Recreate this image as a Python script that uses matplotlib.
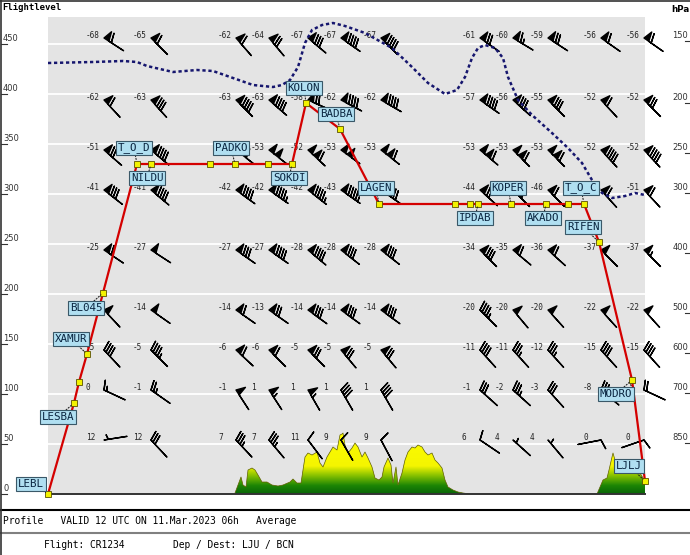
import numpy as np
import matplotlib
matplotlib.use("Agg")
import matplotlib.pyplot as plt
from matplotlib.colors import LinearSegmentedColormap
from matplotlib.lines import Line2D
from matplotlib.patches import Polygon

# left axis (flight level) and right axis (pressure levels)
fl_ticks = [0, 50, 100, 150, 200, 250, 300, 350, 400, 450]
levels_hpa = [150, 200, 250, 300, 400, 500, 600, 700, 850]
levels_fl = [453, 391, 341, 301, 241, 181, 141, 101, 51]

# along-track position of the forecast columns
col_dist = [104, 151, 236, 269, 308, 341, 381, 480, 513, 548, 601, 644]

# temperature (C), wind direction (deg) and speed (kt) per pressure level
# None = temperature hidden behind a waypoint label in the original
temp_150 = [-68, -65, -62, -64, -67, -67, -67, -61, -60, -59, -56, -56]
dir_150 = [303, 315, 319, 320, 310, 305, 315, 305, 301, 303, 305, 305]
spd_150 = [60, 60, 60, 70, 80, 90, 90, 70, 65, 70, 60, 60]

temp_200 = [-62, -63, -63, -63, -58, -62, -62, -57, -56, -55, -52, -52]
dir_200 = [317, 318, 315, 311, 294, 298, 300, 305, 312, 315, 317, 315]
spd_200 = [60, 80, 90, 90, 70, 90, 90, 90, 80, 80, 60, 70]

temp_250 = [-51, None, None, -53, -52, -53, -53, -53, -53, -53, -52, -52]
dir_250 = [311, 310, 308, 308, 313, 306, 308, 310, 315, 315, 317, 317]
spd_250 = [70, 90, 100, 100, 110, 100, 110, 110, 110, 110, 90, 90]

temp_300 = [-41, -41, -42, -42, -42, -43, None, -44, None, -46, None, -51]
dir_300 = [308, 310, 306, 305, 308, 305, 305, 312, 315, 315, 318, 317]
spd_300 = [80, 90, 90, 95, 95, 95, 90, 70, 70, 60, 60, 60]

temp_400 = [-25, -27, -27, -27, -28, -28, -28, -34, -35, -36, -37, -37]
dir_400 = [304, 303, 305, 305, 310, 308, 308, 315, 310, 312, 315, 315]
spd_400 = [60, 50, 80, 90, 90, 80, 80, 80, 60, 60, 50, 55]

temp_500 = [None, -14, -14, -13, -14, -14, -14, -20, -20, -20, -22, -22]
dir_500 = [317, 305, 305, 305, 306, 306, 306, 315, 320, 318, 318, 318]
spd_500 = [50, 50, 60, 70, 80, 80, 80, 45, 50, 50, 50, 50]

temp_600 = [-5, -5, -6, -6, -5, -5, -5, -11, -11, -12, -15, -15]
dir_600 = [317, 315, 313, 315, 315, 320, 320, 318, 318, 318, 318, 318]
spd_600 = [40, 45, 60, 60, 70, 70, 70, 40, 35, 35, 40, 40]

temp_700 = [0, -1, -1, 1, 1, 1, 1, -1, -2, -3, -8, -5]
dir_700 = [295, 305, 327, 327, 330, 330, 330, 312, 312, 318, 310, 295]
spd_700 = [15, 25, 50, 55, 55, 40, 40, 30, 35, 30, 30, 20]

temp_850 = [12, 12, 7, 7, 11, 9, 9, 6, 4, 4, 0, 0]
dir_850 = [261, 317, 317, 320, 323, 330, 332, 304, 312, 320, 79, 71]
spd_850 = [5, 30, 35, 35, 10, 10, 10, 10, 5, 5, 10, 10]

# flight profile
wpt_dist = [48, 74, 79, 87, 103, 137, 151, 210, 235, 268, 292, 306, 340,
            379, 455, 470, 478, 511, 546, 568, 584, 599, 632, 645]
wpt_fl = [0, 91, 112, 140, 201, 330, 330, 330, 330, 330, 330, 391, 365,
          290, 290, 290, 290, 290, 290, 290, 290, 252, 114, 13]
wpt_name = ['LEBL', 'LESBA', '', 'XAMUR', 'BL045', 'T_O_D', 'NILDU', '',
            'PADKO', '', 'SOKDI', 'KOLON', 'BADBA', 'LAGEN', '', '', 'IPDAB',
            'KOPER', 'AKADO', '', 'T_O_C', 'RIFEN', 'MODRO', 'LJLJ']

# tropopause
trop_dist = [48, 93, 123, 137, 147, 173, 197, 213, 233, 253, 273, 282, 290,
             298, 305, 312, 322, 333, 345, 365, 392, 412, 428, 445, 457, 465,
             472, 478, 485, 495, 503, 508, 518, 532, 552, 568, 582, 592, 602,
             612, 625, 635, 645]
trop_fl = [431, 432, 433, 432, 428, 422, 424, 423, 416, 409, 407, 409, 414,
           427, 451, 464, 469, 471, 468, 461, 446, 427, 411, 400, 404, 417,
           436, 446, 449, 446, 436, 417, 394, 379, 361, 346, 331, 314, 301,
           296, 298, 301, 299]

# terrain (Alps section and Ljubljana basin)
terrain_dist_1 = [235, 238, 241, 243, 246, 248, 252, 255, 258, 262, 267, 272,
                  278, 283, 290, 293, 297, 301, 305, 308, 312, 317, 320, 323,
                  327, 330, 333, 337, 340, 342, 343, 345, 348, 352, 355, 358,
                  362, 365, 368, 372, 375, 379, 382, 384, 388, 391, 393, 396,
                  398, 402, 405, 408, 412, 415, 418, 422, 425, 428, 432, 435,
                  438, 442, 445, 448, 453, 458, 463, 470]
terrain_fl_1 = [1, 9, 17, 9, 7, 24, 26, 24, 19, 12, 12, 9, 8, 9, 12, 15, 11,
                11, 37, 41, 39, 42, 31, 27, 37, 42, 47, 44, 59, 60, 61, 49, 41,
                46, 51, 47, 37, 42, 36, 27, 16, 14, 17, 27, 36, 29, 11, 27, 9,
                21, 34, 42, 47, 46, 49, 47, 42, 39, 41, 34, 31, 26, 14, 7, 4,
                2, 1, 0]
terrain_dist_2 = [597, 600, 603, 607, 609, 612, 613, 615, 617, 620, 623, 627,
                  630, 633, 637, 640, 643, 645]
terrain_fl_2 = [0, 7, 14, 16, 24, 37, 41, 34, 31, 27, 31, 27, 29, 26, 24, 21,
                16, 12]

# label placement (pixels from the waypoint)
label_offset = {
    'LEBL': (-17, 10), 'LESBA': (-16, -14), 'XAMUR': (-16, 15),
    'BL045': (-17, -15), 'T_O_D': (-3, 16), 'NILDU': (-4, -14),
    'PADKO': (-4, 16), 'SOKDI': (-3, -14), 'KOLON': (-2, 15),
    'BADBA': (-4, 15), 'LAGEN': (-3, 16), 'IPDAB': (-3, -14),
    'KOPER': (-3, 16), 'AKADO': (-3, -14), 'T_O_C': (-3, 16),
    'RIFEN': (-16, 15), 'MODRO': (-16, -14), 'LJLJ': (-16, 15),
}

W, H = 690, 555
fig = plt.figure(figsize=(W / 100, H / 100), dpi=100)
ax = fig.add_axes([48 / W, (H - 494) / H, 597 / W, 477 / H])
ax.set_facecolor('#e4e4e4')
for s in ['top', 'left', 'right']:
    ax.spines[s].set_visible(False)
ax.spines['bottom'].set_color('#333333')
ax.spines['bottom'].set_linewidth(1.4)
ax.set_xticks([])
ax.set_yticks([])

mono = 'DejaVu Sans Mono'

# white grid lines every 50 FL
for fl in fl_ticks[1:]:
    ax.axhline(fl, color='white', lw=1.3, zorder=1)

# terrain with green-to-yellow shading
terrain_cmap = LinearSegmentedColormap.from_list(
    'ground', [(0, '#086408'), (0.12, '#1c8505'), (0.27, '#8cc400'),
               (0.4, '#f5f500'), (1, '#ffff00')])
grad = np.linspace(0, 1, 256).reshape(-1, 1)
for tx, tf in [(terrain_dist_1, terrain_fl_1), (terrain_dist_2, terrain_fl_2)]:
    verts = list(zip(tx, tf)) + [(tx[-1], 0), (tx[0], 0)]
    poly = Polygon(verts, closed=True, fc='none', ec='none', transform=ax.transData)
    ax.add_patch(poly)
    im = ax.imshow(grad, extent=(48, 645, 0, 70), origin='lower', cmap=terrain_cmap,
                   aspect='auto', zorder=2)
    im.set_clip_path(poly)
    ax.plot(tx, tf, color='#5f5f00', lw=0.5, zorder=2.5)

# wind barbs and temperatures
rows = [(temp_150, dir_150, spd_150), (temp_200, dir_200, spd_200),
        (temp_250, dir_250, spd_250), (temp_300, dir_300, spd_300),
        (temp_400, dir_400, spd_400), (temp_500, dir_500, spd_500),
        (temp_600, dir_600, spd_600), (temp_700, dir_700, spd_700),
        (temp_850, dir_850, spd_850)]
BL = 5.8
xs = np.array(col_dist, dtype=float)
for lvl, (t, d, s) in zip(levels_fl, rows):
    rad = np.radians(d)
    s = np.array(s, dtype=float)
    u = -s * np.sin(rad)
    v = -s * np.cos(rad)
    ax.barbs(xs, np.full(len(xs), lvl + 3.0), u, v, length=BL, pivot=-BL,
             lw=1.0, color='black', clip_on=False, zorder=4)
    for x, tv in zip(xs, t):
        if tv is None:
            continue
        ax.text(x - 18, lvl + 5, str(tv), ha='left', va='center', fontsize=5.6,
                family=mono, color='#222222', zorder=4)

# tropopause
ax.plot(trop_dist, trop_fl, color='#16166e', lw=1.8, ls=(0, (1.3, 1.1)), zorder=5)

# route
ax.plot(wpt_dist, wpt_fl, color='#d40000', lw=1.6, zorder=6, clip_on=False)
ax.plot(wpt_dist, wpt_fl, 's', ms=4.3, mfc='#f2f200', mec='#5a5000', mew=0.6,
        zorder=7, clip_on=False)
for x, fl, name in zip(wpt_dist, wpt_fl, wpt_name):
    if not name:
        continue
    ax.annotate(name, xy=(x, fl), xytext=label_offset[name], textcoords='offset pixels',
                ha='center', va='center', fontsize=7.8, family=mono, color='#0a2540',
                bbox=dict(boxstyle='square,pad=0.15', fc='#b0dff1', ec='#3a5868', lw=0.8),
                arrowprops=dict(arrowstyle='-', ls=':', color='#222222', lw=0.8,
                                shrinkA=0, shrinkB=2),
                zorder=8, annotation_clip=False)

ax.set_xlim(48, 645)
ax.set_ylim(0, 477)

# left flight level scale
for fl in fl_ticks:
    ax.plot([1, 7], [fl, fl], color='#333333', lw=0.8, clip_on=False)
    ax.text(3, fl + 1, str(fl), ha='left', va='bottom', fontsize=6, color='#333333',
            clip_on=False)
# right pressure scale
for p, fl in zip(levels_hpa, levels_fl):
    ax.plot([685, 690], [fl, fl], color='#333333', lw=0.8, clip_on=False)
    ax.text(688, fl + 1, str(p), ha='right', va='bottom', fontsize=6, color='#333333',
            clip_on=False)

fig.text(2 / W, 1 - 8 / H, 'Flightlevel', ha='left', va='center', fontsize=6.5,
         fontweight='bold', family=mono)
fig.text(689 / W, 1 - 9 / H, 'hPa', ha='right', va='center', fontsize=6.3,
         fontweight='bold')

# footer
def hline(y, color, lw):
    fig.add_artist(Line2D([0, 1], [1 - y / H, 1 - y / H], color=color, lw=lw,
                          transform=fig.transFigure))

hline(0.5, '#333333', 1.2)
hline(509.5, 'black', 1.5)
hline(533, '#808080', 1.5)
fig.add_artist(Line2D([0.5 / W, 0.5 / W], [0, 1], color='#333333', lw=1.2,
                      transform=fig.transFigure))
fig.text(3 / W, 1 - 521 / H, 'Profile   VALID 12 UTC ON 11.Mar.2023 06h   Average',
         ha='left', va='center', fontsize=6.9, family=mono)
fig.text(44 / W, 1 - 545 / H, 'Flight: CR1234', ha='left', va='center',
         fontsize=6.9, family=mono)
fig.text(173 / W, 1 - 545 / H, 'Dep / Dest: LJU / BCN', ha='left', va='center',
         fontsize=6.9, family=mono)

fig.savefig('out.png', dpi=100)
